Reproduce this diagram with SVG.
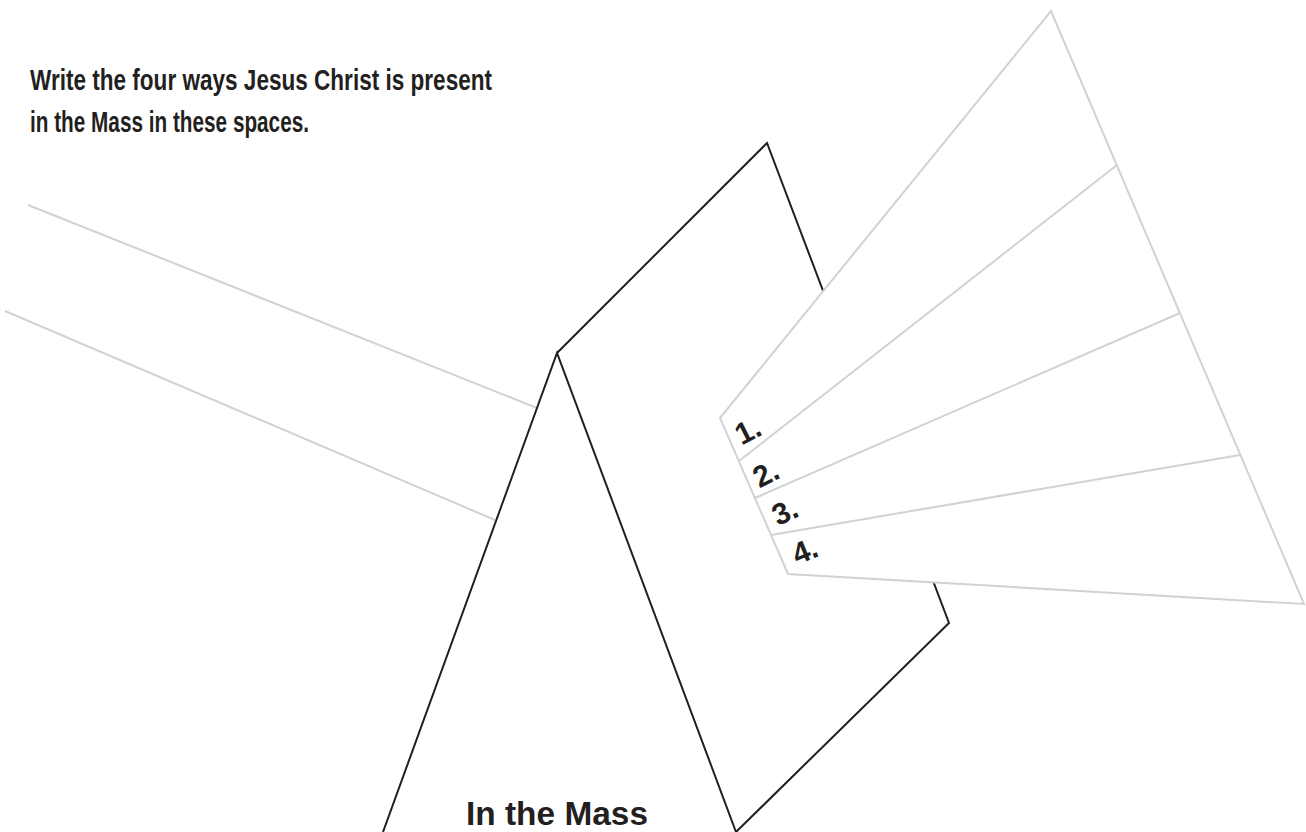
<svg xmlns="http://www.w3.org/2000/svg" width="1306" height="832" viewBox="0 0 1306 832">
<style>
.blk{fill:none;stroke:#231f20;stroke-width:2;stroke-linejoin:miter}
.gry{fill:none;stroke:#d1d2d4;stroke-width:2}
.fan{fill:#ffffff;stroke:#d1d2d4;stroke-width:2;stroke-linejoin:miter}
.t{font-family:"Liberation Sans",Arial,sans-serif;font-weight:bold;fill:#231f20}
</style>
<rect x="0" y="0" width="1306" height="832" fill="#ffffff"/>
<g id="title">
<text class="t" x="30" y="90" font-size="29" textLength="462" lengthAdjust="spacingAndGlyphs">Write the four ways Jesus Christ is present</text>
<text class="t" x="30" y="132" font-size="29" textLength="279" lengthAdjust="spacingAndGlyphs">in the Mass in these spaces.</text>
</g>
<g id="beams">
<line class="gry" x1="28" y1="205" x2="537" y2="408"/>
<line class="gry" x1="5" y1="311" x2="495" y2="520"/>
</g>
<g id="prism">
<path class="blk" d="M383,832 L557,353 L736,832 M557,353 L767,143 L949,623 L736,832"/>
<text class="t" x="557" y="825" font-size="34" text-anchor="middle" textLength="182" lengthAdjust="spacingAndGlyphs">In the Mass</text>
</g>
<g id="fan">
<polygon class="fan" points="720,418 1051,11 1304,604 788,574"/>
<line class="gry" x1="739" y1="461" x2="1117" y2="165"/>
<line class="gry" x1="755" y1="498" x2="1180" y2="313"/>
<line class="gry" x1="771" y1="535" x2="1240" y2="455"/>
</g>
<g id="labels">
<text class="t" font-size="30" text-anchor="middle" transform="translate(748,431) rotate(-27)" y="10">1.</text>
<text class="t" font-size="30" text-anchor="middle" transform="translate(766,474) rotate(-27)" y="10">2.</text>
<text class="t" font-size="30" text-anchor="middle" transform="translate(785,512) rotate(-25)" y="10">3.</text>
<text class="t" font-size="30" text-anchor="middle" transform="translate(805,551) rotate(-22)" y="10">4.</text>
</g>
</svg>
